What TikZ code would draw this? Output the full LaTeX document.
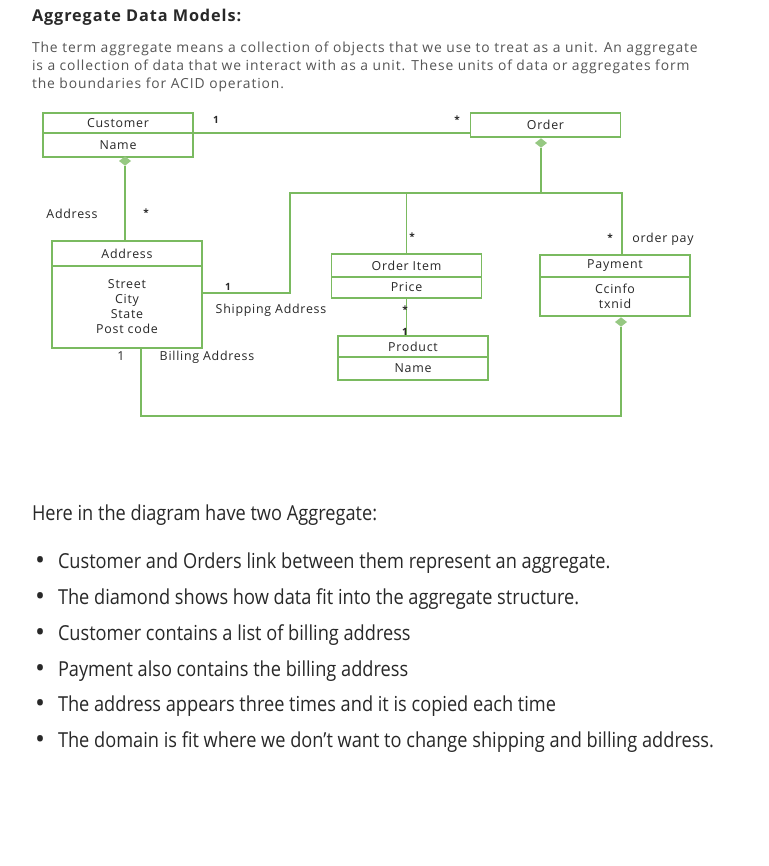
\documentclass[tikz,border=0pt]{standalone}
\usepackage{fontspec}
\setmainfont{Open Sans}
\newfontfamily\condfont[FakeStretch=0.88]{Open Sans}
\newfontfamily\umlfont[LetterSpace=6]{Open Sans}
\newfontfamily\introfont[LetterSpace=6.5]{Open Sans}
\newfontfamily\titlefont[LetterSpace=5.5]{Open Sans}
\usetikzlibrary{positioning, shapes.geometric}
\definecolor{umlGreen}{RGB}{122,186,96}
\definecolor{diaGreen}{RGB}{150,200,130}
\definecolor{textGrey}{RGB}{85,85,85}
\definecolor{inkGrey}{RGB}{40,40,40}

\begin{document}
\begin{tikzpicture}[
  x=0.75pt, y=-0.75pt,
  font=\umlfont\fontsize{9.3}{11.25}\selectfont,
  every node/.style={inner sep=0pt, outer sep=0pt},
  cls/.style={draw=umlGreen, line width=1.1pt, minimum width=112.5pt, text=inkGrey, align=center},
  link/.style={umlGreen, line width=1.1pt},
  agg/.style={diamond, fill=diaGreen, minimum width=9pt, minimum height=7pt},
  lbl/.style={text=inkGrey},
  mult/.style={text=inkGrey, font=\fontsize{7.5}{8}\selectfont\bfseries},
  para/.style={anchor=base west, text=textGrey, font=\introfont\fontsize{10.4}{12}\selectfont},
  bul/.style={anchor=base west, text=inkGrey, font=\condfont\fontsize{15.5}{18}\selectfont},
]
\useasboundingbox[fill=white] (0,0) rectangle (768,866);

% Heading and intro text
\node[anchor=base west, text=inkGrey, font=\titlefont\fontsize{12.2}{14}\selectfont\bfseries] (title) at (32,22) {Aggregate Data Models:};
\node[para] (intro-1) at (32,53) {The term aggregate means a collection of objects that we use to treat as a unit. An aggregate};
\node[para] (intro-2) at (32,71) {is a collection of data that we interact with as a unit. These units of data or aggregates form};
\node[para] (intro-3) at (32,89) {the boundaries for ACID operation.};

% Classes
\node[cls, minimum height=15pt] (cust-h) at (118,123) {Customer};
\node[cls, minimum height=18pt, below=0pt of cust-h] (cust-b) {Name};

\node[cls, minimum height=18pt] (order) at (545.5,125) {Order};

\node[cls, minimum height=18.75pt] (addr-h) at (127,253.5) {Address};
\node[cls, minimum height=61.5pt, below=0pt of addr-h] (addr-b) {Street\\City\\State\\Post code};

\node[cls, minimum height=17.25pt] (item-h) at (406.5,265.5) {Order Item};
\node[cls, minimum height=15.75pt, below=0pt of item-h] (item-b) {Price};

\node[cls, minimum height=15.75pt] (prod-h) at (413,346.5) {Product};
\node[cls, minimum height=17.25pt, below=0pt of prod-h] (prod-b) {Name};

\node[cls, minimum height=16.5pt] (pay-h) at (615,266) {Payment};
\node[cls, minimum height=29.25pt, below=0pt of pay-h] (pay-b) {Ccinfo\\txnid};

% Aggregation diamonds
\node[agg] (cust-d) at (125,161) {};
\node[agg] (order-d) at (541,143) {};
\node[agg] (pay-d) at (621,322) {};

% Connectors
\coordinate (bus-l) at (290,193);
\coordinate (bus-r) at (622,193);
\coordinate (bill-c) at (141,416);
\draw[link] (cust-h.south east) -- (cust-h.south east -| order.west);
\draw[link] (cust-d.south) -- (cust-d.south |- addr-h.north);
\draw[link] ([yshift=-20.25pt]addr-b.north east) -| (bus-l) -- (bus-r) -- (bus-r |- pay-h.north);
\draw[link] (order-d.south) -- (order-d.south |- bus-l);
\draw[link] (item-h.north) -- (item-h.north |- bus-l);
\draw[link] (item-b.south) -- (item-b.south |- prod-h.north);
\draw[link] (pay-d.south) |- (bill-c) -- (bill-c |- addr-b.south);

% Labels and multiplicities
\node[mult] (m-cust) at (216,120) {1};
\node[mult] (m-order) at (457,120) {*};
\node[lbl] (l-addr) at (72,214) {Address};
\node[mult] (m-addr) at (146,213) {*};
\node[mult] (m-ship) at (228,287) {1};
\node[lbl] (l-ship) at (271,310) {Shipping Address};
\node[mult] (m-item) at (412,237) {*};
\node[mult] (m-pay) at (610,238) {*};
\node[lbl] (l-pay) at (663,239) {order pay};
\node[mult] (m-prod1) at (405,310) {*};
\node[mult] (m-prod2) at (405,332) {1};
\node[lbl] (m-bill) at (121,356) {1};
\node[lbl] (l-bill) at (207,357) {Billing Address};

% Summary list
\node[bul] (summary) at (32,520) {Here in the diagram have two Aggregate:};
\foreach \i/\y/\txt in {
  1/568/Customer and Orders link between them represent an aggregate.,
  2/604/The diamond shows how data fit into the aggregate structure.,
  3/640/Customer contains a list of billing address,
  4/676/Payment also contains the billing address,
  5/711/The address appears three times and it is copied each time,
  6/747/The domain is fit where we don\textquoteright t want to change shipping and billing address.}{
  \node[bul, font=\fontsize{20}{20}\selectfont] (dot-\i) at (35,\y+1) {\textbullet};
  \node[bul] (pt-\i) at (58,\y) {\txt};
}
\end{tikzpicture}
\end{document}
